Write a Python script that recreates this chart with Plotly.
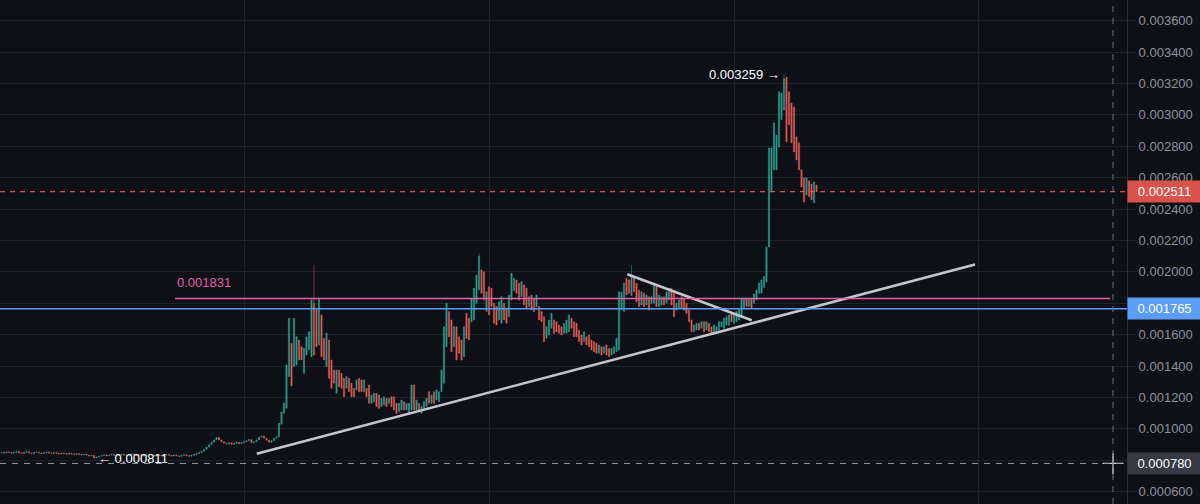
import plotly.graph_objects as go

# Prices are stored in millionths (µ) -> multiply by SCALE
SCALE = 1e-6

opens = [
    848, 850, 846, 853, 849, 845, 851, 856, 848, 844,
    850, 854, 847, 843, 849, 852, 846, 842, 848, 853,
    847, 844, 849, 845, 841, 846, 843, 839, 845, 841,
    837, 842, 838, 834, 839, 833, 828, 832, 815, 820,
    826, 831, 835, 829, 833, 838, 832, 828, 834, 839,
    833, 829, 835, 840, 834, 830, 836, 832, 828, 834,
    838, 833, 829, 835, 831, 827, 833, 837, 832, 828,
    834, 829, 825, 831, 835, 830, 826, 832, 837, 842,
    850, 858, 870, 884, 900, 915, 930, 946, 930, 918,
    910, 905, 912, 903, 908, 915, 906, 912, 918, 925,
    932, 912, 918, 930, 948, 955, 940, 928, 915, 925,
    940, 950, 1030, 1100, 1131, 1333, 1545, 1396, 1407, 1566,
    1524, 1354, 1471, 1503, 1460, 1800, 1757, 1535, 1726, 1577,
    1396, 1566, 1439, 1375, 1227, 1375, 1354, 1322, 1259, 1322,
    1291, 1259, 1248, 1322, 1312, 1237, 1259, 1280, 1163, 1173,
    1227, 1216, 1142, 1152, 1195, 1163, 1205, 1205, 1163, 1110,
    1120, 1173, 1120, 1099, 1120, 1280, 1120, 1163, 1099, 1131,
    1142, 1237, 1163, 1237, 1184, 1173, 1237, 1291, 1524, 1747,
    1694, 1524, 1651, 1587, 1566, 1460, 1736, 1705, 1683, 1694,
    1800, 1885, 2012, 2001, 1747, 1906, 1896, 1800, 1779, 1694,
    1673, 1800, 1768, 1715, 1821, 1880, 1949, 1928, 1842, 1917,
    1896, 1779, 1853, 1832, 1779, 1779, 1747, 1715, 1577, 1598,
    1641, 1694, 1683, 1662, 1651, 1609, 1609, 1619, 1705, 1683,
    1673, 1630, 1598, 1556, 1587, 1598, 1566, 1556, 1545, 1482,
    1524, 1482, 1535, 1513, 1471, 1482, 1492, 1503, 1760, 1747,
    1959, 1949, 1850, 1970, 1928, 1885, 1789, 1864, 1789, 1842,
    1800, 1800, 1906, 1779, 1789, 1842, 1800, 1821, 1896, 1864,
    1757, 1768, 1842, 1832, 1800, 1757, 1694, 1619, 1630, 1673,
    1641, 1683, 1630, 1673, 1651, 1609, 1619, 1630, 1651, 1641,
    1662, 1660, 1736, 1673, 1683, 1694, 1713, 1770, 1834, 1780,
    1832, 1800, 1821, 1864, 1864, 1900, 1936, 2159, 2509, 2650,
    2649, 2796, 2970, 3031, 3240, 3147, 3075, 3050, 2860, 2822,
    2650, 2600, 2490, 2580, 2560, 2440, 2554,
]

closes = [
    850, 846, 853, 849, 845, 851, 856, 848, 844, 850,
    854, 847, 843, 849, 852, 846, 842, 848, 853, 847,
    844, 849, 845, 841, 846, 843, 839, 845, 841, 837,
    842, 838, 834, 839, 833, 828, 832, 815, 820, 826,
    831, 835, 829, 833, 838, 832, 828, 834, 839, 833,
    829, 835, 840, 834, 830, 836, 832, 828, 834, 838,
    833, 829, 835, 831, 827, 833, 837, 832, 828, 834,
    829, 825, 831, 835, 830, 826, 832, 837, 842, 850,
    858, 870, 884, 900, 915, 930, 946, 930, 918, 910,
    905, 912, 903, 908, 915, 906, 912, 918, 925, 932,
    912, 918, 930, 948, 955, 940, 928, 915, 925, 940,
    950, 1037, 1108, 1165, 1407, 1705, 1273, 1705, 1587, 1439,
    1439, 1513, 1587, 1619, 1821, 1470, 1524, 1826, 1460, 1439,
    1609, 1322, 1259, 1291, 1375, 1269, 1259, 1205, 1333, 1237,
    1205, 1205, 1312, 1237, 1237, 1312, 1205, 1163, 1216, 1227,
    1142, 1131, 1195, 1205, 1142, 1195, 1142, 1120, 1099, 1163,
    1184, 1120, 1163, 1163, 1280, 1120, 1184, 1110, 1142, 1173,
    1195, 1163, 1216, 1163, 1248, 1237, 1375, 1651, 1800, 1587,
    1492, 1651, 1439, 1482, 1439, 1651, 1577, 1566, 1832, 1896,
    1980, 2100, 1864, 1821, 1874, 1726, 1779, 1673, 1662, 1810,
    1842, 1694, 1673, 1853, 1991, 1959, 1864, 1821, 1938, 1789,
    1768, 1842, 1757, 1747, 1853, 1694, 1683, 1556, 1651, 1694,
    1736, 1609, 1619, 1609, 1598, 1673, 1694, 1726, 1641, 1587,
    1587, 1556, 1535, 1619, 1535, 1524, 1503, 1492, 1482, 1535,
    1471, 1524, 1471, 1460, 1513, 1524, 1577, 1874, 1870, 1928,
    1853, 1864, 1980, 1874, 1810, 1779, 1874, 1779, 1853, 1757,
    1842, 1917, 1779, 1853, 1842, 1789, 1874, 1896, 1789, 1715,
    1800, 1821, 1768, 1757, 1736, 1683, 1619, 1662, 1673, 1630,
    1683, 1619, 1683, 1619, 1600, 1662, 1651, 1683, 1683, 1705,
    1715, 1726, 1683, 1726, 1747, 1757, 1832, 1834, 1780, 1834,
    1768, 1860, 1885, 1930, 1949, 1970, 2159, 2789, 2789, 2950,
    2870, 3147, 3140, 3230, 2828, 2937, 2822, 2764, 2713, 2650,
    2541, 2445, 2600, 2480, 2460, 2573, 2511,
]

# wick extremes for notable candles (index -> µ)
high_wicks = {125: 2044, 191: 2119, 252: 2044, 313: 3259}
low_wicks = {37: 811}

# horizontal levels
pink_level = 0.001831
blue_level = 0.001765
last_price = 0.002511
cursor_price = 0.000780
peak_label = "0.003259"
low_label = "0.000811"
peak_idx = 313
low_idx = 37

# price scale ticks (labels hidden where a price tag covers them)
tick_values = [0.0006, 0.0008, 0.0010, 0.0012, 0.0014, 0.0016, 0.0018, 0.0020,
               0.0022, 0.0024, 0.0026, 0.0028, 0.0030, 0.0032, 0.0034, 0.0036]
hidden_tick_labels = [0.0008, 0.0018]

# user-drawn trend lines (candle index, price)
trend_up_x = [102.1, 389.4]
trend_up_y = [0.000842, 0.002047]
trend_down_x = [250.3, 300.1]
trend_down_y = [0.001985, 0.001692]

# time gridline positions (candle index) and cursor column
time_grid = [97.3, 195.1, 293.0, 390.9]
cursor_idx = 444.6
pink_start_idx = 69.4
pink_end_idx = 443.4

n = min(len(opens), len(closes))
idx = list(range(n))
o = [opens[i] * SCALE for i in idx]
c = [closes[i] * SCALE for i in idx]
h = [max(opens[i], closes[i], high_wicks.get(i, 0)) * SCALE for i in idx]
l = [min(opens[i], closes[i], low_wicks.get(i, 10**9)) * SCALE for i in idx]

tick_text = ["" if any(abs(v - hv) < 1e-9 for hv in hidden_tick_labels) else f"{v:.6f}"
             for v in tick_values]

BG = "#0e1018"
GRID = "#1f222c"
UP = "#2b9e8e"
DOWN = "#e05a55"
PINK = "#e45fa8"
BLUE = "#5b9cf6"
RED_TAG = "#d9534c"
FONT = "Liberation Sans, Arial, sans-serif"
XDOM = 1127 / 1200

fig = go.Figure()
fig.add_trace(go.Candlestick(
    x=idx, open=o, high=h, low=l, close=c,
    increasing=dict(line=dict(color=UP, width=0.5), fillcolor=UP),
    decreasing=dict(line=dict(color=DOWN, width=0.5), fillcolor=DOWN),
    whiskerwidth=0, hoverinfo="skip", showlegend=False,
))
fig.add_trace(go.Scatter(x=trend_up_x, y=trend_up_y, mode="lines",
                         line=dict(color="#c4c6cc", width=2.5),
                         hoverinfo="skip", showlegend=False))
fig.add_trace(go.Scatter(x=trend_down_x, y=trend_down_y, mode="lines",
                         line=dict(color="#c4c6cc", width=2.5),
                         hoverinfo="skip", showlegend=False))
fig.add_trace(go.Scatter(x=[cursor_idx], y=[cursor_price], mode="markers",
                         marker=dict(symbol="cross-thin", size=15,
                                     line=dict(color="#d1d4dc", width=1.3)),
                         hoverinfo="skip", showlegend=False))

shapes = [
    dict(type="line", xref="x", yref="y", x0=pink_start_idx, x1=pink_end_idx,
         y0=pink_level, y1=pink_level, line=dict(color=PINK, width=1.5)),
    dict(type="line", xref="x domain", yref="y", x0=0, x1=1,
         y0=blue_level, y1=blue_level, line=dict(color=BLUE, width=1.5)),
    dict(type="line", xref="x domain", yref="y", x0=0, x1=1,
         y0=last_price, y1=last_price, line=dict(color=RED_TAG, width=1.2, dash="5px,5px")),
    dict(type="line", xref="x domain", yref="y", x0=0, x1=1,
         y0=cursor_price, y1=cursor_price, line=dict(color="#9598a1", width=1, dash="6px,6px")),
    dict(type="line", xref="x", yref="y domain", x0=cursor_idx, x1=cursor_idx,
         y0=0, y1=1, line=dict(color="#6a6d78", width=1, dash="6px,6px")),
]

annotations = [
    dict(x=pink_start_idx, y=pink_level, xref="x", yref="y", text=f"{pink_level:.6f}",
         showarrow=False, xanchor="left", yanchor="bottom", yshift=6,
         font=dict(color=PINK, size=13, family=FONT)),
    dict(x=peak_idx, y=high_wicks[peak_idx] * SCALE, xref="x", yref="y",
         text=f"{peak_label} →", showarrow=False, xanchor="right", yanchor="middle",
         xshift=-2, font=dict(color="#ffffff", size=13, family=FONT)),
    dict(x=low_idx, y=low_wicks[low_idx] * SCALE, xref="x", yref="y",
         text=f"← {low_label}", showarrow=False, xanchor="left", yanchor="middle",
         xshift=2, font=dict(color="#ffffff", size=13, family=FONT)),
]
for val, bg in [(last_price, RED_TAG), (blue_level, BLUE), (cursor_price, "#363a45")]:
    annotations.append(dict(
        x=XDOM, y=val, xref="paper", yref="y", text=f"{val:.6f}", showarrow=False,
        xanchor="left", yanchor="middle", align="center", width=69, height=17,
        borderpad=2, bgcolor=bg, font=dict(color="#ffffff", size=13, family=FONT)))

fig.update_layout(
    width=1200, height=504,
    margin=dict(l=0, r=0, t=0, b=0),
    paper_bgcolor=BG, plot_bgcolor=BG,
    shapes=shapes, annotations=annotations,
    showlegend=False,
    xaxis=dict(domain=[0, XDOM], range=[-0.6, 450.2], rangeslider=dict(visible=False),
               tickmode="array", tickvals=time_grid, showticklabels=False,
               showgrid=True, gridcolor=GRID, gridwidth=1, zeroline=False,
               showline=False, ticks="", fixedrange=True),
    yaxis=dict(side="right", range=[0.0005217, 0.0037318],
               tickmode="array", tickvals=tick_values, ticktext=tick_text,
               showgrid=True, gridcolor=GRID, zeroline=False,
               ticks="outside", ticklen=8, tickcolor=GRID, showline=True,
               linecolor="#2a2e39", automargin=False,
               tickfont=dict(color="#8d919b", size=13, family=FONT), fixedrange=True),
    font=dict(family=FONT),
)

fig.write_html("out.html")
